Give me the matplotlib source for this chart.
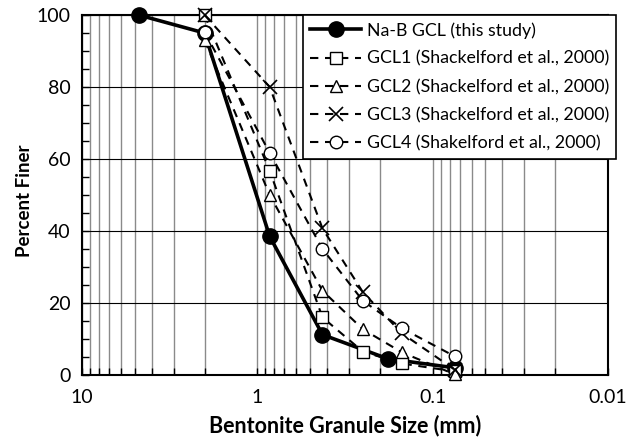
import matplotlib
matplotlib.use("Agg")
import matplotlib.pyplot as plt
from matplotlib.ticker import LogLocator, FixedLocator, NullFormatter, FuncFormatter

plt.rcParams['font.family'] = ['Lato', 'DejaVu Sans']

# Data
nab_size = [4.75, 2.0, 0.85, 0.425, 0.18, 0.075]
nab_pf = [100, 95, 38.5, 11.2, 4.5, 2.0]

gcl_size = [2.0, 0.85, 0.425, 0.25, 0.15, 0.075]
gcl1 = [100, 56.7, 16.0, 6.5, 3.2, 1.0]
gcl2 = [93.0, 50.0, 23.4, 12.7, 6.3, 0.2]
gcl3 = [100, 80.0, 40.7, 23.0, 11.6, 1.5]
gcl4 = [95.3, 61.7, 35.0, 20.6, 13.0, 5.2]

labels = ["Na-B GCL (this study)",
          "GCL1 (Shackelford et al., 2000)",
          "GCL2 (Shackelford et al., 2000)",
          "GCL3 (Shackelford et al., 2000)",
          "GCL4 (Shakelford et al., 2000)"]
xticks = [10, 1, 0.1, 0.01]
yticks = [0, 20, 40, 60, 80, 100]

fig = plt.figure(figsize=(6.41, 4.41), dpi=100)
ax = fig.add_axes([82/641, 1-375/441, (608-82)/641, (375-15)/441])

ax.set_xscale('log')
ax.set_xlim(10, 0.01)
ax.set_ylim(0, 100)

# grids
ax.xaxis.set_major_locator(FixedLocator(xticks))
ax.xaxis.set_minor_locator(LogLocator(base=10, subs=range(2, 10)))
ax.xaxis.set_minor_formatter(NullFormatter())
ax.xaxis.set_major_formatter(FuncFormatter(lambda v, p: f"{v:g}"))
ax.set_yticks(yticks)
ax.yaxis.set_minor_locator(FixedLocator(range(0, 101, 5)))
ax.grid(True, which='both', axis='x', color='#8a8a8a', lw=1.0, zorder=0)
ax.grid(True, which='major', axis='y', color='black', lw=0.8, zorder=0)
ax.set_axisbelow(True)

ax.tick_params(axis='both', which='both', direction='in', color='black')
ax.tick_params(axis='both', which='major', length=5, width=1, labelsize=14, pad=8)
ax.tick_params(axis='both', which='minor', length=5, width=1)
ax.tick_params(axis='x', which='major', pad=10)

dash = (0, (4, 3.2))
ax.plot(nab_size, nab_pf, color='black', lw=2.6, marker='o', ms=11,
        mfc='black', mec='black', label=labels[0], zorder=3, clip_on=False)
ax.plot(gcl_size, gcl1, color='black', lw=1.5, ls=dash, marker='s', ms=8.5,
        mfc='white', mec='black', mew=1.0, label=labels[1], zorder=4, clip_on=False)
ax.plot(gcl_size, gcl2, color='black', lw=1.5, ls=dash, marker='^', ms=8.5,
        mfc='white', mec='black', mew=1.0, label=labels[2], zorder=4, clip_on=False)
ax.plot(gcl_size, gcl3, color='black', lw=1.5, ls=dash, marker='x', ms=10,
        mfc='white', mec='black', mew=1.2, label=labels[3], zorder=4, clip_on=False)
ax.plot(gcl_size, gcl4, color='black', lw=1.5, ls=dash, marker='o', ms=9,
        mfc='white', mec='black', mew=1.0, label=labels[4], zorder=4, clip_on=False)

for s in ax.spines.values():
    s.set_linewidth(1.5)
    s.set_color('black')

ax.set_xlabel("Bentonite Granule Size (mm)", fontsize=15.5, fontweight='bold')
ax.xaxis.set_label_coords(345/641, 1-426/441, transform=fig.transFigure)
ax.set_ylabel("Percent Finer", fontsize=13.5, fontweight='bold')
ax.yaxis.set_label_coords(25/641, 1-201/441, transform=fig.transFigure)
ax.yaxis.label.set_va('center')
ax.xaxis.label.set_va('center')

leg = ax.legend(loc='upper right', bbox_to_anchor=(616/641, 1-15/441),
                bbox_transform=fig.transFigure, fontsize=12.8,
                frameon=True, fancybox=False, edgecolor='black', framealpha=1,
                borderpad=0.4, labelspacing=0.68, handlelength=2.9,
                handletextpad=0.3, borderaxespad=0.0)
leg.get_frame().set_linewidth(1.2)
leg.set_zorder(10)

fig.savefig("out.png", dpi=100)
